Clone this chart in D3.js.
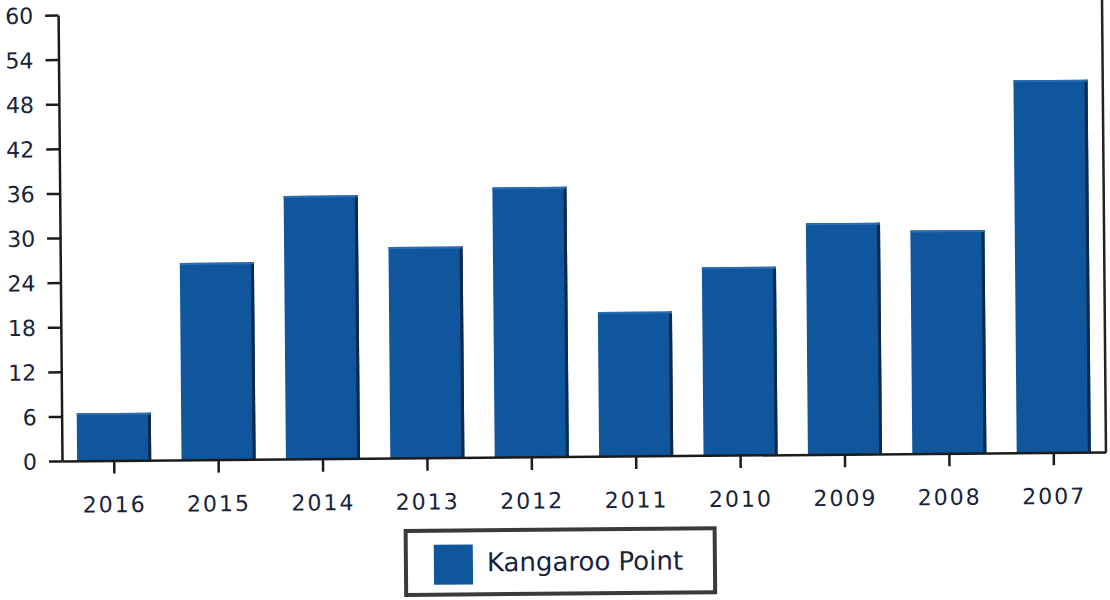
<!DOCTYPE html>
<html>
<head>
<meta charset="utf-8">
<script src="https://cdn.jsdelivr.net/npm/d3@7"></script>
<style>
  body { margin: 0; background: #fff; }
  text { font-family: "DejaVu Sans", Verdana, sans-serif; }
</style>
</head>
<body>
<svg id="chart"></svg>
<script>
// data
const years = ['2016', '2015', '2014', '2013', '2012', '2011', '2010', '2009', '2008', '2007'];
const values = [6.4, 26.5, 35.4, 28.4, 36.3, 19.4, 25.3, 31.1, 30.0, 50.1];
const yTicks = [0, 6, 12, 18, 24, 30, 36, 42, 48, 54, 60];
const seriesName = 'Kangaroo Point';

const W = 1110, H = 600;
const margin = {top: 15, right: 4, bottom: 139, left: 62};
const width = W - margin.left - margin.right;
const height = H - margin.top - margin.bottom;

const svg = d3.select('#chart')
    .attr('width', W)
    .attr('height', H);

// the scan is tilted a little, so tilt everything
const root = svg.append('g')
    .attr('transform', 'rotate(-0.5,' + margin.left + ',' + (margin.top + height) + ')');

const g = root.append('g')
    .attr('transform', 'translate(' + margin.left + ',' + margin.top + ')');

const x = d3.scaleBand()
    .domain(years)
    .range([0, width])
    .paddingInner(0.29)
    .paddingOuter(0.145);

const y = d3.scaleLinear()
    .domain([0, 60])
    .range([height, 0]);

//bars, with a dark edge on the right like the original
const bars = g.append('g').selectAll('g')
    .data(years)
    .enter()
    .append('g');

bars.append('rect')
    .attr('x', d => x(d))
    .attr('y', (d, i) => y(values[i]))
    .attr('width', x.bandwidth())
    .attr('height', (d, i) => height - y(values[i]))
    .style('fill', '#0f569d');

bars.append('rect')
    .attr('x', d => x(d) + x.bandwidth() - 3)
    .attr('y', (d, i) => y(values[i]))
    .attr('width', 3)
    .attr('height', (d, i) => height - y(values[i]))
    .style('fill', '#0b2a4d');

bars.append('rect')
    .attr('x', d => x(d))
    .attr('y', (d, i) => y(values[i]))
    .attr('width', x.bandwidth())
    .attr('height', 2)
    .style('fill', '#2a6cb0');

//right border
g.append('line')
    .attr('x1', width).attr('x2', width)
    .attr('y1', -10).attr('y2', height)
    .style('stroke', '#222')
    .style('stroke-width', 2.5);

//Y axis
const yAxis = g.append('g')
    .call(d3.axisLeft(y).tickValues(yTicks).tickSize(13).tickPadding(12).tickSizeOuter(0));

//X axis
const xAxis = g.append('g')
    .attr('transform', 'translate(0,' + height + ')')
    .call(d3.axisBottom(x).tickSize(13).tickPadding(23).tickSizeOuter(0));

[yAxis, xAxis].forEach(a => {
    a.select('.domain').style('stroke', '#1b1b1b').style('stroke-width', 2.5);
    a.selectAll('.tick line').style('stroke', '#1b1b1b').style('stroke-width', 2.5);
    a.selectAll('.tick text')
        .style('font-family', '"DejaVu Sans", Verdana, sans-serif')
        .style('font-size', '22px')
        .style('fill', '#17233b');
});
yAxis.selectAll('.tick text').attr('dy', '0.36em');
xAxis.selectAll('.tick text').style('letter-spacing', '2px');

//legend
const leg = root.append('g')
    .attr('transform', 'translate(405,534)');
leg.append('rect')
    .attr('width', 309)
    .attr('height', 64)
    .style('fill', '#fff')
    .style('stroke', '#3a3a3a')
    .style('stroke-width', 4);
leg.append('rect')
    .attr('x', 28).attr('y', 14)
    .attr('width', 39).attr('height', 40)
    .style('fill', '#0f569d');
leg.append('text')
    .attr('x', 81).attr('y', 41)
    .style('font-size', '26px')
    .style('fill', '#17233b')
    .text(seriesName);
</script>
</body>
</html>
